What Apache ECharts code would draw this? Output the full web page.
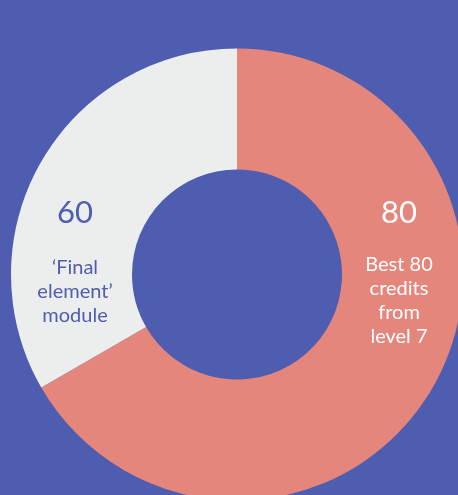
<!DOCTYPE html>
<html>
<head>
<meta charset="utf-8">
<script src="https://cdn.jsdelivr.net/npm/echarts@6/dist/echarts.min.js"></script>
<style>
html,body{margin:0;padding:0;background:#4f5db0;}
#c{width:458px;height:495px;}
</style>
</head>
<body>
<div id="c"></div>
<script>
// Slice sizes as drawn (salmon covers two thirds of the ring)
const categories = ['Best 80 credits from level 7', "'Final element' module"];
const sliceValues = [120, 60];
const labelNumbers = ['80', '60'];
const labelTexts = [['Best 80', 'credits', 'from', 'level 7'], ['\u2018Final', 'element\u2019', 'module']];
const colors = ['#e4867c', '#eceeee'];
const textColors = ['#ffffff', '#4f5db0'];

const labelPos = [{x: 399, numY: 213, txtY: 265}, {x: 75, numY: 213, txtY: 268}];

const graphics = [];
categories.forEach((c, i) => {
  const p = labelPos[i];
  graphics.push({
    type: 'text', silent: true, z: 100, x: p.x, y: p.numY,
    style: {text: labelNumbers[i], fill: textColors[i], font: '31px Lato', align: 'center', verticalAlign: 'middle'}
  });
  labelTexts[i].forEach((t, j) => {
    graphics.push({
      type: 'text', silent: true, z: 100, x: p.x, y: p.txtY + j * 24,
      style: {text: t, fill: textColors[i], font: '20px Lato', align: 'center', verticalAlign: 'middle'}
    });
  });
});

const chart = echarts.init(document.getElementById('c'), null, {renderer: 'canvas'});
chart.setOption({
  backgroundColor: '#4f5db0',
  animation: false,
  series: [{
    type: 'pie',
    center: [237, 274.5],
    radius: [105, 226],
    startAngle: 90,
    clockwise: true,
    silent: true,
    label: {show: false},
    labelLine: {show: false},
    data: categories.map((name, i) => ({
      name: name,
      value: sliceValues[i],
      itemStyle: {color: colors[i]}
    }))
  }],
  graphic: graphics
});
</script>
</body>
</html>
